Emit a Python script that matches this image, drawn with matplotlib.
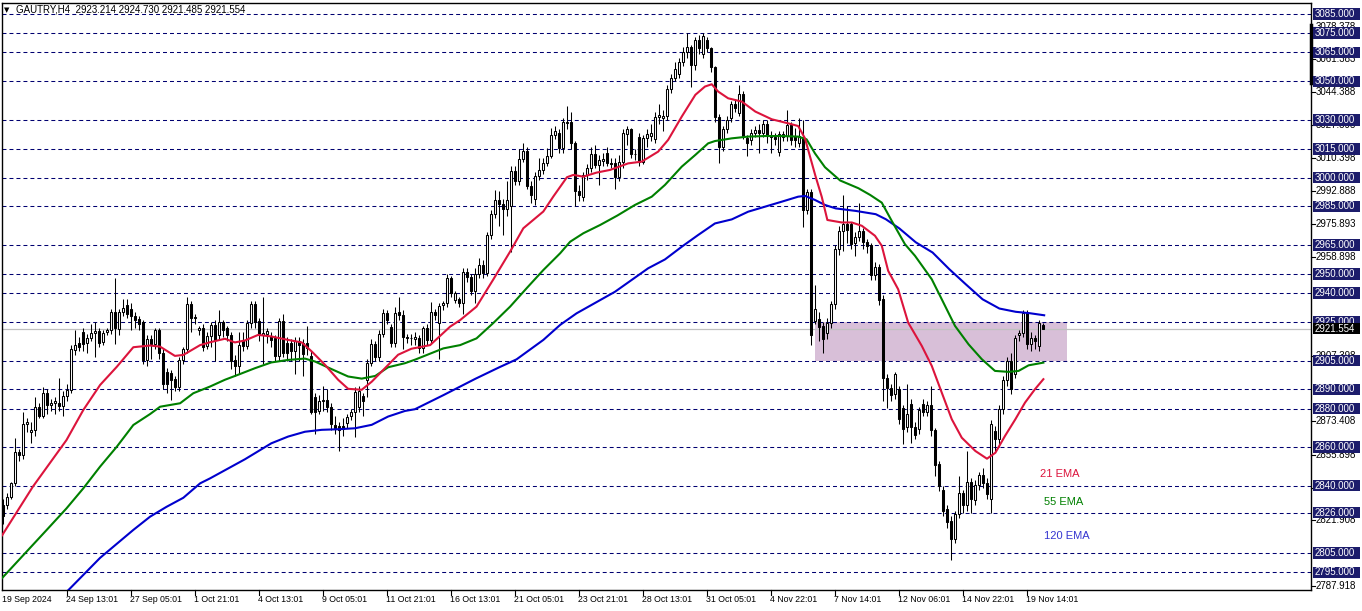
import numpy as np
import matplotlib
matplotlib.use("Agg")
import matplotlib.pyplot as plt
from matplotlib.patches import Rectangle
from matplotlib.transforms import blended_transform_factory

# H4 candles, GAUTRY
bar_open = [
    2830, 2830, 2834.3, 2841.2, 2857.7, 2856, 2872, 2867.7, 2869, 2880.7,
    2876.4, 2888, 2882, 2882.8, 2883, 2881.4, 2886.6, 2889.7, 2910.5, 2914.3,
    2919.7, 2914, 2916.6, 2919.2, 2920.4, 2914.8, 2920, 2920.9, 2930.4, 2921.5,
    2930, 2933.9, 2931.8, 2928.3, 2926.6, 2924.9, 2905.3, 2916, 2913.6, 2920.9,
    2909, 2899.2, 2898.7, 2895.3, 2891.4, 2905.3, 2910.8, 2934.4, 2927.8, 2920.9,
    2921.8, 2912.3, 2917.5, 2923.2, 2918.3, 2924.8, 2921.8, 2918.3, 2905.3, 2901.9,
    2915.7, 2912.6, 2924.4, 2934.5, 2925.3, 2918.3, 2918.9, 2917.5, 2916.6, 2907.4,
    2925.3, 2914, 2914, 2909.7, 2914.9, 2914, 2914, 2907.4, 2886.3, 2879,
    2884.2, 2884.6, 2881.1, 2871.6, 2871, 2871, 2872.4, 2876, 2878.5, 2880.7,
    2886.6, 2895, 2903.6, 2913.5, 2906.7, 2918.9, 2929.6, 2922.2, 2914, 2930,
    2928.7, 2917, 2916.5, 2916, 2916.5, 2911.3, 2921.7, 2915.7, 2930, 2924.3,
    2933.8, 2934.7, 2947.7, 2936.4, 2936.8, 2935.1, 2951.2, 2948.6, 2941.3, 2950,
    2954.6, 2950.3, 2970.2, 2981, 2988.4, 2986.3, 2983.6, 2985, 3003.5, 2998,
    3009.6, 3013.9, 2995.9, 2989, 3000.9, 3004, 3007.5, 3011.3, 3022.2, 3023.1,
    3015.3, 3028.6, 3029.1, 3017.9, 2993.3, 2989.8, 3001.4, 3004.9, 3012.3, 3006.6,
    3008.8, 3013, 3007.8, 3007.5, 3000.5, 3008, 3022.7, 3025, 3012.5, 3021.3,
    3008.3, 3020.4, 3021.6, 3019.9, 3031.3, 3030.8, 3032, 3045.9, 3051.6, 3053.9,
    3060.3, 3065.5, 3068.1, 3058.5, 3071.5, 3064.3, 3071.5, 3067.2, 3057.3, 3031.3,
    3016.1, 3025.1, 3030.8, 3038.3, 3033.8, 3043.5, 3020.4, 3019.6, 3023, 3024.8,
    3023, 3027.7, 3021.6, 3021.3, 3013.5, 3021.3, 3021.6, 3027.4, 3021.6, 3018.2,
    3021, 2983.2, 2992.7, 2925.6, 2926.4, 2923, 2919.2, 2924.7, 2934.2, 2962.8,
    2972.4, 2975.8, 2975.8, 2966, 2968.9, 2972.4, 2966.6, 2964.9, 2949.3, 2953.8,
    2937.2, 2896.1, 2890.9, 2887.5, 2890.4, 2880.5, 2870.7, 2882.3, 2870.7, 2869.6,
    2882.3, 2878.3, 2881.7, 2868.9, 2851, 2838, 2827.7, 2821.6, 2812.1, 2825.1,
    2836.4, 2829.8, 2841.9, 2832.5, 2840.2, 2845.4, 2841.5, 2833.2, 2868.4, 2864.4,
    2879.7, 2894.9, 2904.8, 2897.9, 2918.1, 2919.2, 2929.6, 2913.4, 2916.9, 2912.6,
    2923.214,
]
bar_high = [
    2833, 2836, 2842, 2865, 2859, 2878, 2875, 2873, 2886, 2883,
    2891, 2890, 2885, 2886, 2896, 2889, 2893, 2913, 2921, 2917,
    2922, 2919, 2924, 2925, 2922, 2921, 2922, 2932, 2948, 2932,
    2937, 2937, 2935, 2930, 2928, 2926, 2918, 2918, 2922, 2922,
    2911, 2901, 2900, 2897, 2907, 2912, 2938, 2936, 2929, 2923,
    2924, 2920, 2925, 2926, 2931, 2926, 2923, 2920, 2908, 2920,
    2920, 2926, 2936, 2936, 2927, 2938, 2922, 2920, 2918, 2927,
    2929, 2917, 2916, 2917, 2917, 2916, 2923, 2910, 2888, 2887,
    2892, 2890, 2883, 2876, 2873, 2875, 2877, 2880, 2891, 2892,
    2888, 2906, 2916, 2915, 2921, 2932, 2931, 2924, 2933, 2938,
    2931, 2919, 2919, 2920, 2918, 2923, 2924, 2935.6, 2932, 2935,
    2936, 2950, 2949, 2941, 2938, 2953, 2953, 2950, 2953, 2958,
    2957, 2972, 2983, 2993.6, 2993, 2989, 2998, 3006, 3006, 3015,
    3017.9, 3016, 2998, 3003, 3010, 3010, 3015.3, 3026, 3027, 3025,
    3031, 3037, 3034, 3019, 2996, 3003, 3007, 3016, 3017, 3012,
    3013, 3016, 3010, 3010, 3012, 3025, 3027, 3026, 3015, 3023,
    3022, 3025, 3028, 3034, 3038, 3035, 3048, 3054, 3060, 3062,
    3068, 3075, 3069, 3073, 3074, 3075, 3073, 3068, 3058, 3033,
    3027, 3032, 3040, 3041, 3048, 3045, 3022, 3025, 3027, 3028,
    3030, 3030, 3024, 3023, 3024, 3024, 3035, 3029, 3026, 3030.8,
    3030, 2994, 2994, 2944, 2930, 2925, 2927, 2936, 2965, 2975,
    2991, 2985, 2977, 2972, 2987, 2974, 2968, 2966, 2956, 2955,
    2939, 2898, 2893, 2899, 2892, 2882, 2893, 2885, 2873, 2881,
    2885, 2884, 2891.8, 2870, 2853, 2840, 2830, 2824, 2827, 2845,
    2838, 2858, 2844, 2843, 2847, 2849, 2844, 2874, 2871, 2882,
    2897, 2907, 2909, 2918, 2921, 2931.3, 2931, 2920, 2918, 2926,
    2924.730,
]
bar_low = [
    2820, 2828, 2833, 2840, 2853, 2854, 2868, 2862, 2866, 2875,
    2875, 2877, 2879, 2877, 2879, 2876, 2884, 2888, 2908, 2910,
    2910, 2908.8, 2915, 2907, 2912, 2913, 2918, 2919, 2913.6, 2918,
    2928, 2927, 2921, 2922, 2921, 2903, 2902, 2906, 2911, 2906,
    2890, 2888, 2884.5, 2889, 2889, 2903, 2909, 2920, 2924, 2918,
    2910, 2911, 2912, 2905, 2916, 2917, 2915, 2900.5, 2896.7, 2898,
    2910, 2911, 2922, 2922, 2915, 2903, 2914, 2912, 2905, 2905,
    2907, 2905, 2905, 2898, 2905, 2897, 2908, 2877, 2867, 2877,
    2879, 2878, 2869, 2867, 2858, 2866, 2870, 2874, 2865.5, 2878,
    2876, 2886, 2902, 2905, 2905, 2917, 2924, 2912, 2912, 2926,
    2911, 2914, 2913, 2913, 2909, 2909, 2913, 2914, 2926, 2906,
    2931, 2933, 2938, 2935, 2933, 2929, 2946, 2939, 2934.7, 2948,
    2948, 2949, 2968, 2979, 2975, 2970, 2980, 2961.6, 2996, 2996,
    3008, 2994, 2987, 2985.8, 2999, 3002, 3006, 3010, 3020, 3013,
    3013, 3025, 3015, 2985, 2988, 2988, 2999, 3003, 3005, 2996,
    3006, 3006, 3005, 2994, 2998, 3005, 3017, 3010, 3009, 3006,
    3007, 3016, 3019, 3018, 3028, 3024, 3030, 3044, 3050, 3052,
    3058, 3062, 3047.3, 3056, 3064, 3062, 3065, 3055, 3029, 3007.4,
    3014, 3023, 3029, 3034, 3032, 3020, 3011, 3017, 3021, 3013,
    3021, 3018, 3013, 3017, 3011, 3019, 3019, 3017, 3016, 3016,
    2974.5, 2981, 2913, 2924, 2915, 2909.1, 2916, 2922, 2932, 2960,
    2962, 2966, 2963, 2959.4, 2967, 2963, 2961, 2947, 2947, 2934,
    2884, 2880.5, 2884, 2885, 2872, 2861.5, 2868, 2862, 2864, 2867,
    2876, 2876, 2866, 2845, 2837, 2824, 2818, 2801.6, 2810, 2823,
    2826, 2827, 2826, 2830, 2838, 2839, 2833, 2826, 2858, 2860,
    2877, 2892, 2887.5, 2896, 2915, 2917, 2910.8, 2910, 2911, 2910,
    2921.485,
]
bar_close = [
    2824, 2834.3, 2841.2, 2857.7, 2856, 2872, 2873.3, 2869, 2880.7, 2876.4,
    2888, 2882, 2883, 2884, 2881.4, 2886.6, 2889.7, 2911, 2912.8, 2912.2,
    2913.6, 2916.6, 2919.2, 2920.4, 2914.3, 2919.2, 2920.9, 2930.4, 2921.8, 2930.4,
    2932.2, 2929.2, 2928.3, 2926, 2924, 2905.3, 2916, 2913.6, 2920.9, 2909,
    2892.8, 2892.8, 2894.9, 2891.4, 2905.3, 2910.8, 2934.4, 2927, 2927, 2921.8,
    2912.2, 2917.5, 2923.2, 2915.7, 2924.8, 2921, 2918.3, 2904.8, 2901.9, 2913.1,
    2912.6, 2924.4, 2934.5, 2924.8, 2918.9, 2919.2, 2920.1, 2915.7, 2907.4, 2925.3,
    2908.8, 2908.8, 2909.7, 2914.9, 2913.1, 2908.5, 2911.4, 2878.5, 2878.5, 2884.2,
    2884.6, 2881.1, 2872.1, 2869.8, 2869, 2869.3, 2875.9, 2878.5, 2888.9, 2889.2,
    2884.2, 2903.6, 2913.5, 2906.7, 2918.9, 2929.6, 2926.1, 2914, 2929.6, 2928.7,
    2917, 2916.5, 2916.8, 2917, 2911.3, 2921.7, 2915.7, 2930, 2928.6, 2933.5,
    2934.7, 2947.7, 2939.9, 2939.9, 2935.1, 2951.2, 2948.6, 2941.3, 2950, 2954.6,
    2950.3, 2970.2, 2981, 2988.4, 2986.3, 2983.6, 2988.4, 3003.5, 2998, 3009.6,
    3013.9, 2995.4, 2991, 3000.9, 3004, 3007.8, 3011.3, 3022.2, 3024.3, 3015.3,
    3029.1, 3029.1, 3017.9, 2993.3, 2991, 3001.4, 3004.9, 3012.3, 3006.6, 3009.2,
    3009.6, 3007.8, 3007.2, 3000.5, 3008, 3023, 3025.1, 3012.5, 3012.1, 3008.3,
    3020.4, 3022.7, 3023, 3031.3, 3032.6, 3032, 3045.9, 3051.6, 3056.3, 3059.8,
    3065.5, 3068.1, 3058.5, 3071.5, 3067.2, 3073.6, 3067.2, 3057.3, 3031.3, 3016.1,
    3025.1, 3030, 3038.3, 3036, 3043.5, 3021.6, 3018.2, 3023, 3024.8, 3023.4,
    3027.7, 3021.6, 3020.9, 3019.9, 3022.5, 3022.5, 3027.4, 3019.6, 3019.6, 3021.6,
    2983.2, 2992.7, 2918.2, 2931.6, 2922.6, 2916, 2924.7, 2934.2, 2962.8, 2972.4,
    2975.8, 2973, 2965.4, 2968.9, 2972.4, 2966.3, 2964.6, 2949.3, 2953.8, 2936.5,
    2896.1, 2890.9, 2886.9, 2897.9, 2874.5, 2869.6, 2877, 2870.7, 2866.1, 2879.3,
    2878.3, 2881.7, 2868.9, 2850.6, 2839.8, 2826.8, 2821.1, 2812.1, 2825.1, 2836.4,
    2829.8, 2841.9, 2832.9, 2840.2, 2845.4, 2841.5, 2835.5, 2871.9, 2864.4, 2879.7,
    2894.9, 2904.8, 2890.1, 2916.9, 2919.2, 2929.6, 2913.4, 2916.9, 2915.2, 2924.4,
    2921.554,
]

# moving averages, read at sample bars
ema21_bar = [-0.3, 7.4, 15.8, 20, 24.2, 28.4, 32.5, 36.7, 39.2, 42.9, 45, 49.2, 51.7,
             55.4, 57.9, 60.4, 63.7, 67, 71.2, 74.6, 77.1, 80.4, 83.7, 86.2, 89.6,
             92.1, 95.4, 98.7, 102, 106.7, 111.7, 114.2, 118.3, 122.4, 126.7, 130,
             135, 137.5, 140.9, 142.5, 145, 148.3, 151.7, 156.2, 159.6, 163.7, 166.2,
             169.6, 173, 175.4, 177.1, 178.7, 181.2, 184.6, 188, 192.1, 196.2, 198.7,
             200.4, 203, 204.6, 206, 209.6, 212.1, 214.6, 217.9, 219.6, 221.2, 223.7,
             226.2, 229.6, 232.1, 234.6, 237.1, 239.6, 243, 245.9, 248, 250.4, 253,
             255.4, 257.9, 260]
ema21 = [2814.2, 2839.5, 2863.7, 2879.3, 2892.3, 2901.8, 2911.9, 2912.8, 2912.2, 2907.4,
         2907.9, 2913, 2914.5, 2916.3, 2914.4, 2915.4, 2918.3, 2917.5, 2915.7, 2914.4,
         2909.7, 2902.8, 2895, 2890.3, 2889.8, 2894, 2901, 2908, 2911.1, 2913, 2922.6,
         2926, 2933, 2946.8, 2961.6, 2973.7, 2982.4, 2990.2, 3000.2, 3001.4, 3000.5,
         3002.6, 3004, 3007.4, 3008.3, 3013.5, 3019.6, 3031.7, 3043, 3047.3, 3048.5,
         3044.7, 3041.2, 3039.5, 3034.3, 3030.3, 3028.2, 3026.8, 3020.4, 3001, 2990,
         2978, 2976.7, 2976.7, 2975, 2969.8, 2964.6, 2951.6, 2942, 2924.7, 2912.6,
         2902.2, 2888.3, 2874.5, 2864.9, 2858, 2854, 2857.1, 2865.8, 2874.5, 2883.1,
         2890.1, 2895.3]

ema55_bar = [-0.3, 10.8, 15.8, 20, 24.2, 28.4, 32.5, 36.7, 39.2, 44.2, 47.5, 51.7, 55.4,
             58.7, 62.9, 67, 71.2, 75.4, 77.9, 82.1, 86.2, 89.6, 93, 96.2, 100.4, 103,
             110, 114.2, 118.3, 122.4, 126.7, 130.8, 135, 139.2, 141.7, 145, 149.2,
             153.5, 157.9, 162.1, 165.4, 169.6, 173, 176.2, 177.9, 182.1, 186.2, 190.4,
             194.6, 198.7, 200.8, 202.9, 205.4, 209.2, 213.75, 216.7, 219.6, 222.1,
             225.4, 227.9, 232.1, 234.6, 237.9, 241.3, 244.6, 247.9, 251.3, 253.8,
             256.3, 260]
ema55 = [2792, 2816.9, 2828.2, 2838.6, 2849.9, 2860.3, 2871.5, 2877.2, 2881, 2882.8,
         2888, 2891.5, 2895, 2897.6, 2901, 2904, 2905.3, 2906, 2904.5, 2900.5, 2896.7,
         2895.6, 2897, 2901.5, 2903.6, 2905.5, 2911.3, 2913, 2916.5, 2924.3, 2933,
         2942.5, 2952, 2960.7, 2966.7, 2971.1, 2975.4, 2980.3, 2985.8, 2990.1, 2996.2,
         3005.7, 3011.8, 3017.8, 3019, 3020.4, 3021.3, 3021.6, 3021.6, 3021.3, 3019.9,
         3012.6, 3005.4, 2998.5, 2994.5, 2991, 2987, 2977.5, 2965.4, 2959.4, 2947.2,
         2936.8, 2923, 2913.4, 2905.7, 2899.6, 2899.1, 2899.6, 2902.5, 2903.9]

ema120_bar = [16.2, 24.2, 32.5, 36.7, 40.8, 45, 49.2, 51.7, 60.4, 67, 71.2, 75.4, 79.6,
              83.7, 87.9, 92.1, 96.2, 100.4, 102.9, 110, 118, 124, 128.3, 135, 139.2,
              143.3, 147.5, 152.9, 161.2, 165.4, 169.6, 173.7, 177.9, 182.1, 186.2,
              190.4, 194.6, 198.7, 200.4, 202.9, 205.4, 208.1, 213.1, 218.1, 220.6,
              224, 228.1, 232.3, 236.5, 240.6, 244.8, 249, 253.1, 256.5, 260.2]
ema120 = [2785.6, 2802.5, 2817, 2823.9, 2829, 2833.7, 2841.2, 2843.8, 2853.7, 2862,
          2865.5, 2868, 2869, 2869.3, 2869.8, 2871.6, 2875.9, 2878.8, 2879.7, 2887,
          2895.5, 2901.5, 2905.6, 2915.7, 2923.5, 2929.5, 2934.4, 2940.7, 2952.9,
          2957.5, 2964.1, 2970.2, 2976.2, 2978.3, 2982.3, 2984.9, 2987.5, 2990.1,
          2990.5, 2988.4, 2985.8, 2984, 2982.7, 2981, 2978.4, 2973.6, 2966.4, 2961.1,
          2952.4, 2944.6, 2936.8, 2932, 2930.3, 2929.6, 2928.5]

# horizontal levels drawn on the chart (navy price tags)
level_prices = [3085, 3075, 3065, 3050, 3030, 3015, 3000, 2985, 2965, 2950, 2940,
                2925, 2905, 2890, 2880, 2860, 2840, 2826, 2805, 2795]
# price scale ticks that are visible next to the tags
scale_prices = [3078.378, 3061.383, 3044.388, 3027.393, 3010.398, 2992.888, 2975.893,
                2958.898, 2907.398, 2873.408, 2855.898, 2838.903, 2821.908, 2787.918]
last_price = 2921.554
zone_low, zone_high = 2905, 2925
zone_start, zone_end = 202.9, 265.9

time_labels = ["19 Sep 2024", "24 Sep 13:01", "27 Sep 05:01", "1 Oct 21:01", "4 Oct 13:01",
               "9 Oct 05:01", "11 Oct 21:01", "16 Oct 13:01", "21 Oct 05:01",
               "23 Oct 21:01", "28 Oct 13:01", "31 Oct 05:01", "4 Nov 22:01",
               "7 Nov 14:01", "12 Nov 06:01", "14 Nov 22:01", "19 Nov 14:01"]
time_label_bars = [0, 16, 32, 48, 64, 80, 96, 112, 128, 144, 160, 176, 192, 208, 224, 240, 256]

W, H = 1362, 611
fig = plt.figure(figsize=(W / 100, H / 100), dpi=100)
ax = fig.add_axes([2 / W, 21 / H, 1309 / W, 587 / H])
ax.set_xlim(-0.325, 326.9)
ax.set_ylim(2785.8, 3090.7)
ax.set_xticks([])
ax.set_yticks([])
for s in ax.spines.values():
    s.set_color("black")
    s.set_linewidth(1)

FONT = "Liberation Sans"
navy = "#1c1c6b"

# highlighted zone
ax.add_patch(Rectangle((zone_start, zone_low), zone_end - zone_start, zone_high - zone_low,
                       facecolor="#d8bfd8", edgecolor="none", zorder=1))

# dashed horizontal levels
for p in level_prices:
    ax.axhline(p, color="#000070", lw=0.75, ls=(0, (3.8, 2.9)), zorder=2)
ax.axhline(last_price, color="#c0c0c0", lw=0.9, zorder=2)

# candles
o = np.array(bar_open)
hi = np.array(bar_high)
lo = np.array(bar_low)
c = np.array(bar_close)
x = np.arange(len(c))
ax.vlines(x, lo, hi, color="black", lw=0.75, zorder=4)
up = c >= o
ax.bar(x[up], np.maximum(c[up] - o[up], 0.3), bottom=o[up], width=0.55,
       color="white", edgecolor="black", lw=0.75, zorder=5)
ax.bar(x[~up], np.maximum(o[~up] - c[~up], 0.3), bottom=c[~up], width=0.55,
       color="black", edgecolor="black", lw=0.75, zorder=5)

# EMAs
ax.plot(ema120_bar, ema120, color="#0000cd", lw=1.5, zorder=6)
ax.plot(ema55_bar, ema55, color="#008000", lw=1.5, zorder=6)
ax.plot(ema21_bar, ema21, color="#dc143c", lw=1.5, zorder=6)

ax.text(259.2, 2846.3, "21 EMA", color="#dc143c", fontsize=8, family=FONT, va="center", zorder=7)
ax.text(260.2, 2831.3, "55 EMA", color="#008000", fontsize=8, family=FONT, va="center", zorder=7)
ax.text(260.2, 2813.6, "120 EMA", color="#3535d0", fontsize=8, family=FONT, va="center", zorder=7)

# header
fig.text(4 / W, 1 - 10 / H, "\u25BC", fontsize=5, va="center", family="DejaVu Sans")
fig.text(16 / W, 1 - 10 / H, "GAUTRY,H4  2923.214 2924.730 2921.485 2921.554",
         fontsize=7, va="center", family=FONT)

# price scale on the right
tr = blended_transform_factory(ax.transAxes, ax.transData)
px = 1 / 1309  # one pixel in axes fraction
for p in scale_prices:
    ax.plot([1, 1 + 4 * px], [p, p], color="black", lw=0.8, transform=tr, clip_on=False)
    ax.text(1 + 5 * px, p, f"{p:.3f}", fontsize=7, family=FONT, va="center",
            transform=tr, clip_on=False)
ax.plot([1, 1], [3079.3, 3049.2], color="black", lw=2.5, transform=tr, clip_on=False)
for p in level_prices:
    ax.add_patch(Rectangle((1 + 1.5 * px, p - 3.0), 47 * px, 6.0, transform=tr,
                           facecolor=navy, edgecolor="none", clip_on=False, zorder=8))
    ax.text(1 + 4 * px, p, f"{p:.3f}", fontsize=7, family=FONT, va="center",
            color="white", transform=tr, clip_on=False, zorder=9)
ax.add_patch(Rectangle((1 + 1.5 * px, last_price - 3.0), 47 * px, 6.0, transform=tr,
                       facecolor="black", edgecolor="none", clip_on=False, zorder=10))
ax.text(1 + 4 * px, last_price, f"{last_price:.3f}", fontsize=7, family=FONT, va="center",
        color="white", transform=tr, clip_on=False, zorder=11)

# time axis
trx = blended_transform_factory(ax.transData, ax.transAxes)
py = 1 / 587
for b, lab in zip(time_label_bars, time_labels):
    if b > 0:
        ax.plot([b, b], [0, -5 * py], color="black", lw=0.8, transform=trx, clip_on=False)
    ax.text(b - 0.3, -10 * py, lab, fontsize=6.3, family=FONT, va="center",
            transform=trx, clip_on=False)

fig.savefig("out.png", dpi=100, facecolor="white")
